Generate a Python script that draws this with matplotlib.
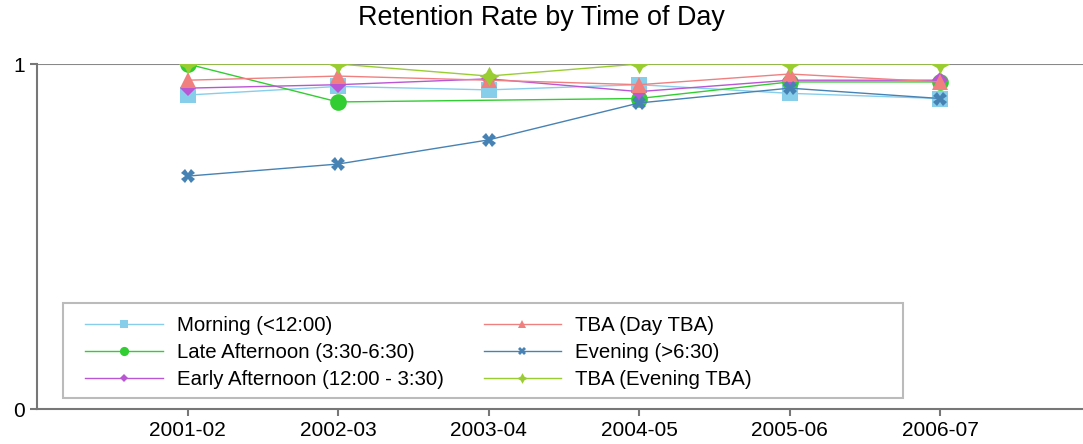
import numpy as np
import matplotlib.pyplot as plt
from matplotlib.patches import Rectangle

plt.rcParams['font.family'] = ['Liberation Sans', 'DejaVu Sans']

years = ['2001-02', '2002-03', '2003-04', '2004-05', '2005-06', '2006-07']

morning = [0.91, 0.935, 0.925, 0.94, 0.915, 0.90]
late_afternoon = [1.0, 0.89, np.nan, 0.90, 0.948, 0.948]
early_afternoon = [0.93, 0.94, 0.957, 0.92, 0.953, 0.953]
tba_day = [0.953, 0.965, 0.953, 0.94, 0.971, 0.948]
evening = [0.675, 0.71, 0.78, 0.887, 0.93, 0.90]
tba_evening = [1.0, 1.0, 0.965, 1.0, 1.0, 1.0]

series = [
    ('Morning (<12:00)', morning, 'skyblue', 's', 11),
    ('Late Afternoon (3:30-6:30)', late_afternoon, 'limegreen', 'o', 12),
    ('Early Afternoon (12:00 - 3:30)', early_afternoon, 'mediumorchid', 'D', 8),
    ('TBA (Day TBA)', tba_day, 'lightcoral', '^', 11),
    ('Evening (>6:30)', evening, 'steelblue', 'X', 10),
    ('TBA (Evening TBA)', tba_evening, 'yellowgreen', (4, 1, 0), 14),
]

W, H = 1083, 444
fig = plt.figure(figsize=(W / 100, H / 100), dpi=100)
ax = fig.add_axes([37 / W, 35 / H, 1046 / W, 345 / H])

x = np.arange(len(years))
ax.axhline(1, color='#888888', lw=1.5, zorder=0)
for name, vals, col, mk, ms in series:
    vals = np.array(vals, dtype=float)
    ok = ~np.isnan(vals)
    ax.plot(x[ok], vals[ok], color=col, marker=mk, markersize=ms, lw=1,
            markeredgewidth=0, label=name)

ax.set_xlim(-1, 5.95)
ax.set_ylim(0, 1)
ax.set_yticks([0, 1])
ax.set_yticklabels(['0', '1'])
ax.set_xticks(x)
ax.set_xticklabels(years)
ax.tick_params(labelsize=15, colors='#777777', labelcolor='black', length=5, width=1.5)
for s in ['top', 'right']:
    ax.spines[s].set_visible(False)
for s in ['left', 'bottom']:
    ax.spines[s].set_color('#777777')
    ax.spines[s].set_linewidth(1.5)

fig.text(0.5, 1 - 18 / H, 'Retention Rate by Time of Day', fontsize=19.4,
         ha='center', va='center')

# legend without its own frame, box drawn separately (it is wider than the entries)
leg = ax.legend(ncol=2, loc='lower left', bbox_to_anchor=(85 / W, (H - 389) / H),
                bbox_transform=fig.transFigure,
                fontsize=14.7, markerscale=0.55, handlelength=3.8,
                frameon=False, columnspacing=1.95,
                borderpad=0, labelspacing=0.4, handletextpad=0.7,
                borderaxespad=0)
fig.add_artist(Rectangle((63 / W, (H - 398) / H), 840 / W, 95 / H,
                         transform=fig.transFigure, fill=False,
                         edgecolor='#bbbbbb', lw=1.5))

fig.savefig('out.png', dpi=100)
